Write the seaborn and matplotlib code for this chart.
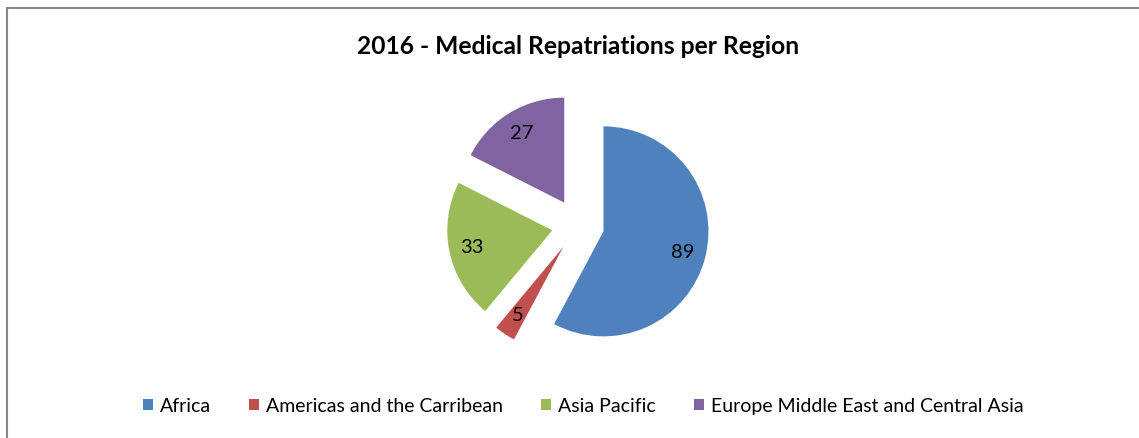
import seaborn as sns
import matplotlib.pyplot as plt
from matplotlib.lines import Line2D

# data
regions = ["Africa", "Americas and the Carribean", "Asia Pacific",
           "Europe Middle East and Central Asia"]
repatriations = [89, 5, 33, 27]
colors = ["#4F81BD", "#C0504D", "#9BBB59", "#8064A2"]

sns.set_theme(style="white")
plt.rcParams["font.family"] = ["Lato", "DejaVu Sans"]
plt.rcParams["text.color"] = "black"

W, H = 1139, 439
fig = plt.figure(figsize=(W / 100, H / 100), dpi=100)

# pie axes: centre at (578, 226) px, radius 105 px
box = 320
cx, cy = 578, 226
ax = fig.add_axes([(cx - box / 2) / W, (H - cy - box / 2) / H, box / W, box / H])
total = sum(repatriations)
wedges, texts, autotexts = ax.pie(
    repatriations,
    colors=colors,
    startangle=90,
    counterclock=False,
    explode=[0.25] * len(repatriations),
    autopct=lambda p: f"{round(p * total / 100):d}",
    pctdistance=0.78,
    textprops={"fontsize": 14.5, "color": "black"},
    wedgeprops={"linewidth": 0},
)
lim = box / 2 / 105
ax.set_xlim(-lim, lim)
ax.set_ylim(-lim, lim)
ax.axis("off")

fig.text(cx / W, 1 - 46 / H, "2016 - Medical Repatriations per Region",
         ha="center", va="center", fontsize=17.7, fontweight="bold", color="black")

fig.legend(wedges, regions, loc="center", bbox_to_anchor=(583 / W, 1 - 407 / H),
           ncol=4, frameon=False, fontsize=14.0, handlelength=0.52,
           handleheight=0.52, handletextpad=0.36, columnspacing=1.95,
           labelcolor="black")

# chart frame (left and top edges visible)
fig.add_artist(Line2D([6.5 / W, 6.5 / W], [0, 1 - 8.5 / H], color="#888888", lw=1.5,
                      transform=fig.transFigure))
fig.add_artist(Line2D([6.5 / W, 1], [1 - 8.5 / H, 1 - 8.5 / H], color="#888888", lw=1.5,
                      transform=fig.transFigure))

fig.savefig("out.png", dpi=100)
